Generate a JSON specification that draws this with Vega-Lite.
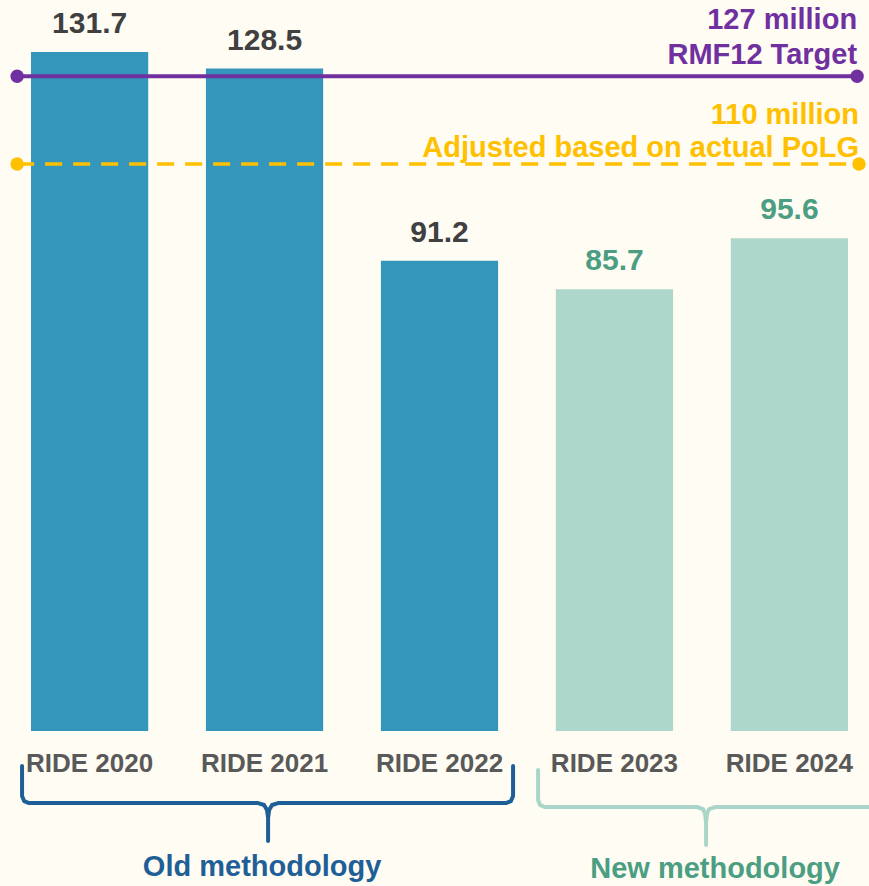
{
  "$schema": "https://vega.github.io/schema/vega-lite/v6.json",
  "width": 869,
  "height": 886,
  "autosize": {"type": "none"},
  "padding": 0,
  "background": "#fffcf3",
  "config": {"view": {"stroke": null}, "font": "Liberation Sans"},
  "datasets": {
    "bars": [
      {"cat": "RIDE 2020", "value": 131.7, "method": "Old"},
      {"cat": "RIDE 2021", "value": 128.5, "method": "Old"},
      {"cat": "RIDE 2022", "value": 91.2, "method": "Old"},
      {"cat": "RIDE 2023", "value": 85.7, "method": "New"},
      {"cat": "RIDE 2024", "value": 95.6, "method": "New"}
    ],
    "braces": [
      {"group": "Old methodology", "k": 1, "pos": -0.383, "y": -6.79, "tip": false},
      {"group": "Old methodology", "k": 2, "pos": -0.383, "y": -12.61, "tip": false},
      {"group": "Old methodology", "k": 3, "pos": -0.371, "y": -13.58, "tip": false},
      {"group": "Old methodology", "k": 4, "pos": -0.343, "y": -13.97, "tip": false},
      {"group": "Old methodology", "k": 5, "pos": 0.966, "y": -13.97, "tip": false},
      {"group": "Old methodology", "k": 6, "pos": 1.0, "y": -14.35, "tip": false},
      {"group": "Old methodology", "k": 7, "pos": 1.017, "y": -15.32, "tip": false},
      {"group": "Old methodology", "k": 8, "pos": 1.023, "y": -16.88, "tip": false},
      {"group": "Old methodology", "k": 9, "pos": 1.023, "y": -21.34, "tip": true},
      {"group": "Old methodology", "k": 10, "pos": 1.023, "y": -16.88, "tip": false},
      {"group": "Old methodology", "k": 11, "pos": 1.029, "y": -15.32, "tip": false},
      {"group": "Old methodology", "k": 12, "pos": 1.046, "y": -14.35, "tip": false},
      {"group": "Old methodology", "k": 13, "pos": 1.08, "y": -13.97, "tip": false},
      {"group": "Old methodology", "k": 14, "pos": 2.383, "y": -13.97, "tip": false},
      {"group": "Old methodology", "k": 15, "pos": 2.411, "y": -13.58, "tip": false},
      {"group": "Old methodology", "k": 16, "pos": 2.423, "y": -12.61, "tip": false},
      {"group": "Old methodology", "k": 17, "pos": 2.423, "y": -6.79, "tip": false},
      {"group": "New methodology", "k": 1, "pos": 2.566, "y": -7.57, "tip": false},
      {"group": "New methodology", "k": 2, "pos": 2.566, "y": -13.39, "tip": false},
      {"group": "New methodology", "k": 3, "pos": 2.577, "y": -14.35, "tip": false},
      {"group": "New methodology", "k": 4, "pos": 2.606, "y": -14.74, "tip": false},
      {"group": "New methodology", "k": 5, "pos": 3.474, "y": -14.74, "tip": false},
      {"group": "New methodology", "k": 6, "pos": 3.509, "y": -15.13, "tip": false},
      {"group": "New methodology", "k": 7, "pos": 3.52, "y": -16.1, "tip": false},
      {"group": "New methodology", "k": 8, "pos": 3.526, "y": -17.65, "tip": false},
      {"group": "New methodology", "k": 9, "pos": 3.526, "y": -22.11, "tip": true},
      {"group": "New methodology", "k": 10, "pos": 3.526, "y": -17.65, "tip": false},
      {"group": "New methodology", "k": 11, "pos": 3.531, "y": -16.1, "tip": false},
      {"group": "New methodology", "k": 12, "pos": 3.543, "y": -15.13, "tip": false},
      {"group": "New methodology", "k": 13, "pos": 3.577, "y": -14.74, "tip": false},
      {"group": "New methodology", "k": 14, "pos": 4.52, "y": -14.74, "tip": false}
    ],
    "refs": [
      {"kind": "target", "name": "RMF12 Target", "amount": "127 million", "value": 127, "start": -0.411, "end": 4.389},
      {"kind": "adjusted", "name": "Adjusted based on actual PoLG", "amount": "110 million", "value": 110, "start": -0.411, "end": 4.4}
    ]
  },
  "layer": [
    {
      "data": {"name": "bars"},
      "encoding": {
        "x": {
          "field": "cat", "type": "nominal", "sort": null, "axis": null,
          "scale": {"range": [31, 848], "paddingInner": 0.33, "paddingOuter": 0}
        },
        "y": {
          "field": "value", "type": "quantitative", "axis": null,
          "scale": {"domain": [-30.06, 141.8], "nice": false, "zero": false}
        }
      },
      "layer": [
        {
          "mark": {"type": "bar"},
          "encoding": {
            "y2": {"datum": 0},
            "color": {"condition": {"test": "datum.method === 'Old'", "value": "#3596bc"}, "value": "#aed7cb"}
          }
        },
        {
          "mark": {"type": "text", "fontSize": 30, "fontWeight": "bold", "baseline": "alphabetic", "dy": -19},
          "encoding": {
            "text": {"field": "value", "type": "quantitative", "format": ".1f"},
            "color": {"condition": {"test": "datum.method === 'Old'", "value": "#404040"}, "value": "#4b9e82"}
          }
        },
        {
          "mark": {"type": "text", "fontSize": 26, "fontWeight": "bold", "baseline": "alphabetic", "dy": 41, "color": "#595959"},
          "encoding": {
            "y": {"datum": 0},
            "text": {"field": "cat", "type": "nominal"}
          }
        }
      ]
    },
    {
      "encoding": {
        "x": {
          "field": "pos", "type": "quantitative", "axis": null,
          "scale": {"domain": [-0.509, 4.457], "nice": false, "zero": false}
        }
      },
      "layer": [
        {
          "data": {"name": "braces"},
          "transform": [{"filter": "datum.group === 'Old methodology'"}],
          "mark": {"type": "line", "color": "#1f5f97", "strokeWidth": 4, "strokeJoin": "round", "strokeCap": "round"},
          "encoding": {
            "y": {"field": "y", "type": "quantitative"},
            "order": {"field": "k", "type": "quantitative"}
          }
        },
        {
          "data": {"name": "braces"},
          "transform": [{"filter": "datum.group === 'New methodology'"}],
          "mark": {"type": "line", "color": "#a9d6c9", "strokeWidth": 4, "strokeJoin": "round", "strokeCap": "round"},
          "encoding": {
            "y": {"field": "y", "type": "quantitative"},
            "order": {"field": "k", "type": "quantitative"}
          }
        },
        {
          "data": {"name": "braces"},
          "transform": [{"filter": "datum.tip && datum.group === 'Old methodology'"}],
          "mark": {"type": "text", "fontSize": 29, "fontWeight": "bold", "baseline": "alphabetic", "dy": 35, "dx": -6, "color": "#1f5f97"},
          "encoding": {
            "y": {"field": "y", "type": "quantitative"},
            "text": {"field": "group", "type": "nominal"}
          }
        },
        {
          "data": {"name": "braces"},
          "transform": [{"filter": "datum.tip && datum.group === 'New methodology'"}],
          "mark": {"type": "text", "fontSize": 29, "fontWeight": "bold", "baseline": "alphabetic", "dy": 33, "dx": 9, "color": "#4b9e82"},
          "encoding": {
            "y": {"field": "y", "type": "quantitative"},
            "text": {"field": "group", "type": "nominal"}
          }
        },
        {
          "data": {"name": "refs"},
          "transform": [{"filter": "datum.kind === 'target'"}],
          "mark": {"type": "rule", "color": "#7030a0", "strokeWidth": 4},
          "encoding": {
            "x": {"field": "start", "type": "quantitative"},
            "x2": {"field": "end"},
            "y": {"field": "value", "type": "quantitative"}
          }
        },
        {
          "data": {"name": "refs"},
          "transform": [{"filter": "datum.kind === 'adjusted'"}],
          "mark": {"type": "rule", "color": "#ffc000", "strokeWidth": 3.5, "strokeDash": [17, 11]},
          "encoding": {
            "x": {"field": "start", "type": "quantitative"},
            "x2": {"field": "end"},
            "y": {"field": "value", "type": "quantitative"}
          }
        },
        {
          "data": {"name": "refs"},
          "transform": [{"fold": ["start", "end"], "as": ["side", "pos"]}],
          "mark": {"type": "circle", "size": 180, "opacity": 1},
          "encoding": {
            "y": {"field": "value", "type": "quantitative"},
            "color": {"condition": {"test": "datum.kind === 'target'", "value": "#7030a0"}, "value": "#ffc000"}
          }
        },
        {
          "data": {"name": "refs"},
          "transform": [{"filter": "datum.kind === 'target'"}],
          "layer": [
            {
              "mark": {"type": "text", "fontSize": 29, "fontWeight": "bold", "baseline": "alphabetic", "align": "right", "dy": -12, "color": "#7030a0"},
              "encoding": {
                "x": {"field": "end", "type": "quantitative"},
                "y": {"field": "value", "type": "quantitative"},
                "text": {"field": "name", "type": "nominal"}
              }
            },
            {
              "mark": {"type": "text", "fontSize": 29, "fontWeight": "bold", "baseline": "alphabetic", "align": "right", "dy": -47, "color": "#7030a0"},
              "encoding": {
                "x": {"field": "end", "type": "quantitative"},
                "y": {"field": "value", "type": "quantitative"},
                "text": {"field": "amount", "type": "nominal"}
              }
            }
          ]
        },
        {
          "data": {"name": "refs"},
          "transform": [{"filter": "datum.kind === 'adjusted'"}],
          "layer": [
            {
              "mark": {"type": "text", "fontSize": 29, "fontWeight": "bold", "baseline": "alphabetic", "align": "right", "dy": -7, "color": "#ffc000"},
              "encoding": {
                "x": {"field": "end", "type": "quantitative"},
                "y": {"field": "value", "type": "quantitative"},
                "text": {"field": "name", "type": "nominal"}
              }
            },
            {
              "mark": {"type": "text", "fontSize": 29, "fontWeight": "bold", "baseline": "alphabetic", "align": "right", "dy": -40, "color": "#ffc000"},
              "encoding": {
                "x": {"field": "end", "type": "quantitative"},
                "y": {"field": "value", "type": "quantitative"},
                "text": {"field": "amount", "type": "nominal"}
              }
            }
          ]
        }
      ]
    }
  ],
  "resolve": {"scale": {"x": "independent"}}
}
